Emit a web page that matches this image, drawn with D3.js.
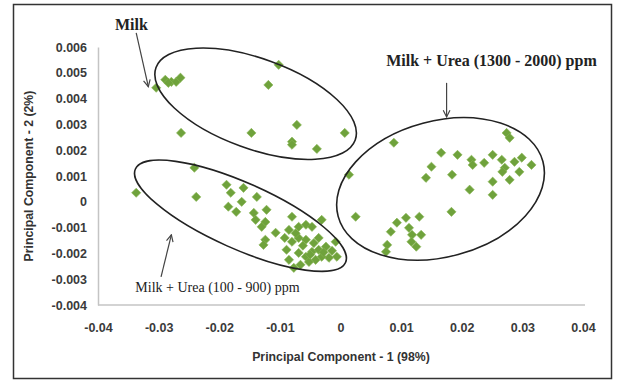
<!DOCTYPE html>
<html><head><meta charset="utf-8">
<script src="https://cdn.jsdelivr.net/npm/d3@7"></script>
<style>body{margin:0;background:#fff}svg{display:block}</style>
</head><body>
<script>
// ---- data ----
const xTicks = [-0.04,-0.03,-0.02,-0.01,0,0.01,0.02,0.03,0.04];
const yTicks = [-0.004,-0.003,-0.002,-0.001,0,0.001,0.002,0.003,0.004,0.005,0.006];
const xTickLabels = ["-0.04","-0.03","-0.02","-0.01","0","0.01","0.02","0.03","0.04"];
const yTickLabels = ["-0.004","-0.003","-0.002","-0.001","0","0.001","0.002","0.003","0.004","0.005","0.006"];

const milkX = [-0.0304,-0.0289,-0.0279,-0.0271,-0.0264,-0.0284,-0.0102,-0.0119,-0.0263,-0.0147,-0.0072,-0.0080,-0.0080,-0.0039,0.0007];
const milkY = [0.00442,0.00473,0.00465,0.00465,0.00481,0.00461,0.00531,0.00453,0.00267,0.00267,0.00298,0.00233,0.00221,0.00205,0.00267];

const lowX = [-0.0337,-0.0241,-0.0238,-0.0188,-0.0181,-0.0160,-0.0163,-0.0185,-0.0172,-0.0138,-0.0143,-0.0140,-0.0122,-0.0124,-0.0130,-0.0107,-0.0124,-0.0127,-0.0080,-0.0085,-0.0069,-0.0057,-0.0047,-0.0031,-0.0080,-0.0069,-0.0057,-0.0036,-0.0024,-0.0006,-0.0019,-0.0089,-0.0085,-0.0069,-0.0057,-0.0047,-0.0036,-0.0066,-0.0041,-0.0031,-0.0008,-0.0077,-0.0052,-0.0062,-0.0044,-0.0028,-0.0074,-0.0050,-0.0014,-0.0092];
const lowY = [0.00035,0.00132,0.00019,0.00066,0.00035,0.00054,0.0,-0.00019,-0.00039,0.00019,-0.00043,-0.00070,-0.00031,-0.00078,-0.00097,-0.00120,-0.00147,-0.00167,-0.00058,-0.00109,-0.00097,-0.00089,-0.00097,-0.00070,-0.00155,-0.00140,-0.00147,-0.00140,-0.00174,-0.00213,-0.00217,-0.00186,-0.00225,-0.00198,-0.00213,-0.00194,-0.00186,-0.00244,-0.00225,-0.00213,-0.00155,-0.00256,-0.00233,-0.00170,-0.00160,-0.00196,-0.00122,-0.00205,-0.00190,-0.00140];

const highX = [0.0274,0.0279,0.0088,0.0166,0.0193,0.0216,0.0218,0.0237,0.0251,0.0266,0.0271,0.0267,0.0287,0.0299,0.0315,0.0295,0.0279,0.0251,0.0251,0.0213,0.0184,0.0150,0.0141,0.0014,0.0183,0.0025,0.0108,0.0130,0.0093,0.0083,0.0113,0.0118,0.0133,0.0117,0.0125,0.0077,0.0075];
const highY = [0.00267,0.00248,0.00229,0.00190,0.00182,0.00163,0.00143,0.00151,0.00182,0.00163,0.00132,0.00116,0.00155,0.00171,0.00143,0.00116,0.00085,0.00078,0.00027,0.00047,0.00105,0.00136,0.00093,0.00105,-0.00039,-0.00058,-0.00062,-0.00058,-0.00081,-0.00116,-0.00101,-0.00128,-0.00128,-0.00155,-0.00174,-0.00167,-0.00194];

// group ellipses: centre in data units
const ellipseCx = [-0.0140,-0.0165,0.0165];
const ellipseCy = [0.0038,-0.00054,0.0005];

// annotation labels and arrows (data units)
const labelTexts = ["Milk","Milk + Urea (1300 - 2000) ppm","Milk + Urea (100 - 900) ppm"];
const labelX = [-0.0345,0.0249,-0.0203];
const labelY = [0.00686,0.0055,-0.0033];
const arrowX1 = [-0.0337,0.0175,-0.0296];
const arrowY1 = [0.00655,0.00461,-0.00291];
const arrowX2 = [-0.0317,0.0175,-0.0279];
const arrowY2 = [0.00446,0.00329,-0.00128];

// ---- chart ----
const W = 618, H = 383;
const svg = d3.select("body").append("svg").attr("width",W).attr("height",H);
svg.append("rect").attr("x",13.5).attr("y",4.5).attr("width",598).attr("height",374)
  .attr("fill","#fff").attr("stroke","#333").attr("stroke-width",1.5);

const x = d3.scaleLinear().domain([-0.04,0.04]).range([98,583]);
const y = d3.scaleLinear().domain([-0.004,0.006]).range([305,47]);

// axes
const xAxis = d3.axisBottom(x).tickValues(xTicks).tickSize(0).tickPadding(18)
  .tickFormat((d,i)=>xTickLabels[i]);
const yAxis = d3.axisLeft(y).tickValues(yTicks).tickSize(0).tickPadding(11)
  .tickFormat((d,i)=>yTickLabels[i]);
const gx = svg.append("g").attr("transform",`translate(0,${y(-0.004)})`).call(xAxis);
const gy = svg.append("g").attr("transform",`translate(${x(-0.04)},0)`).call(yAxis);
[gx,gy].forEach(g=>{
  g.select(".domain").attr("stroke","#c4c4c4").attr("stroke-width",1.5);
  g.selectAll("text").attr("font-family","'Liberation Sans', Arial, sans-serif")
   .attr("font-weight","bold").attr("font-size",12.5).attr("fill","#3a3a3a");
});
gx.select(".domain").attr("d",`M${x(-0.04)},0H${x(0.04)+2}`);

// axis titles
svg.append("text").attr("x",341).attr("y",361).attr("text-anchor","middle")
  .attr("font-family","'Liberation Sans', Arial, sans-serif").attr("font-weight","bold")
  .attr("font-size",12.3).attr("fill","#333").text("Principal Component - 1 (98%)");
svg.append("text").attr("transform","translate(33,176) rotate(-90)").attr("text-anchor","middle")
  .attr("font-family","'Liberation Sans', Arial, sans-serif").attr("font-weight","bold")
  .attr("font-size",12.3).attr("fill","#333").text("Principal Component - 2 (2%)");

// points
const sym = d3.symbol().type(d3.symbolSquare).size(42);
function drawSeries(xs, ys){
  svg.append("g").selectAll("path").data(xs.map((v,i)=>[v,ys[i]])).join("path")
    .attr("d",sym)
    .attr("transform",d=>`translate(${x(d[0])},${y(d[1])}) rotate(45)`)
    .attr("fill","#6fa23c").attr("stroke","#86b552").attr("stroke-width",0.6);
}
drawSeries(milkX, milkY);
drawSeries(lowX, lowY);
drawSeries(highX, highY);

// ellipses
const ellipseShape = [[106,45,20],[115,33,24],[106,68,-15]]; // rx, ry (px), rotation deg
ellipseCx.forEach((cx,i)=>{
  const [rx,ry,rot] = ellipseShape[i];
  svg.append("ellipse").attr("cx",0).attr("cy",0).attr("rx",rx).attr("ry",ry)
    .attr("transform",`translate(${x(cx)},${y(ellipseCy[i])}) rotate(${rot})`)
    .attr("fill","none").attr("stroke","#222").attr("stroke-width",1.6);
});

// arrows
const defs = svg.append("defs");
defs.append("marker").attr("id","ah").attr("viewBox","0 0 10 10").attr("refX",9).attr("refY",5)
  .attr("markerWidth",7).attr("markerHeight",7).attr("orient","auto-start-reverse")
  .append("path").attr("d","M1,1 L9,5 L1,9").attr("fill","none").attr("stroke","#444").attr("stroke-width",1.4);
arrowX1.forEach((v,i)=>{
  svg.append("line").attr("x1",x(v)).attr("y1",y(arrowY1[i]))
    .attr("x2",x(arrowX2[i])).attr("y2",y(arrowY2[i]))
    .attr("stroke","#444").attr("stroke-width",1.2).attr("marker-end","url(#ah)");
});

// labels
const labelStyle = [[16,"bold"],[16,"bold"],[14,"normal"]];
labelTexts.forEach((t,i)=>{
  svg.append("text").attr("x",x(labelX[i])).attr("y",y(labelY[i])).attr("dy","0.35em")
    .attr("text-anchor","middle").attr("font-family","'Liberation Serif','Times New Roman',serif")
    .attr("font-size",labelStyle[i][0]).attr("font-weight",labelStyle[i][1]).attr("fill","#222")
    .text(t);
});
</script>
</body></html>
